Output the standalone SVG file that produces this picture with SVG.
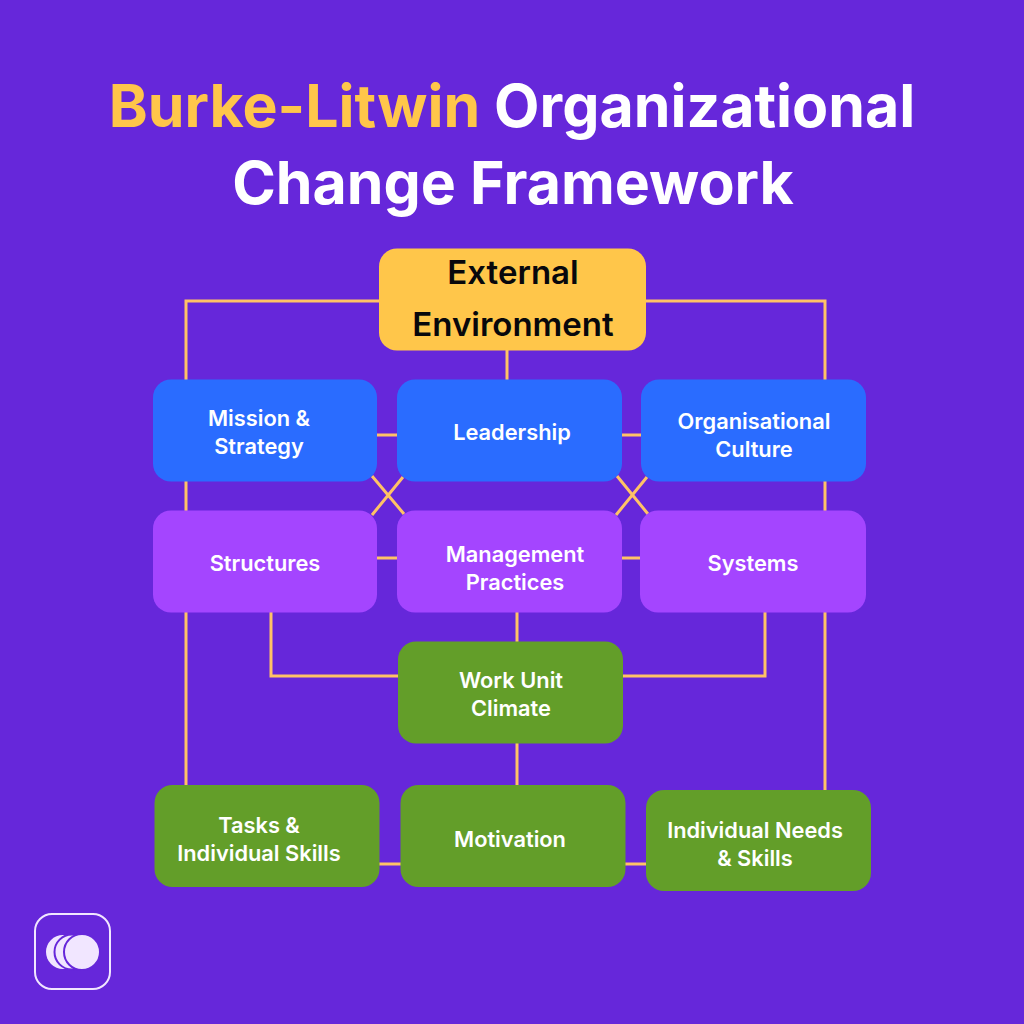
<svg xmlns="http://www.w3.org/2000/svg" width="1024" height="1024" viewBox="0 0 1024 1024">
<style>
text{font-family:Inter,"Liberation Sans",sans-serif;text-anchor:middle}
.t{font-size:59px;font-weight:700;fill:#fff}
.y{fill:#ffc64a}
.l{font-size:21.8px;font-weight:600;fill:#fff}
.e{font-size:33px;font-weight:600;fill:#08080c}
.c{fill:none;stroke:#ffc266;stroke-width:3}
.b{fill:#2a6cff}.p{fill:#a445ff}.g{fill:#639e29}
.m{fill:#f1e6ff}.s{stroke:#6627da;stroke-width:2}
</style>
<rect width="1024" height="1024" fill="#6627da"/>
<text class="t" x="512" y="127"><tspan class="y">Burke-Litwin</tspan> Organizational</text>
<text class="t" x="513" y="204">Change Framework</text>
<g id="connectors" class="c">
<path d="M380 301H186V785"/>
<path d="M645 301H825V790"/>
<path d="M507 350V380"/>
<path d="M377 435H397M622 435H641"/>
<path d="M377 558H397M622 558H640"/>
<path d="M372 515L403 477M372 476L404 514"/>
<path d="M616 515L647 477M617 476L648 514"/>
<path d="M271 612V676H398M765 612V676H623"/>
<path d="M517 612V642M517 742V785"/>
<path d="M379 864H401M625 864H646"/>
</g>
<g id="external"><rect x="379" y="248.500" width="267" height="102" rx="18" fill="#ffc64a"/><text class="e" x="513" y="284">External</text><text class="e" x="513" y="336">Environment</text></g>
<g id="mission"><rect class="b" x="153" y="379.500" width="224" height="102" rx="18"/><text class="l" x="259" y="426">Mission &amp;</text><text class="l" x="259" y="454">Strategy</text></g>
<g id="leadership"><rect class="b" x="397" y="379.500" width="225" height="102" rx="18"/><text class="l" x="512" y="440">Leadership</text></g>
<g id="culture"><rect class="b" x="641" y="379.500" width="225" height="102" rx="18"/><text class="l" x="754" y="429">Organisational</text><text class="l" x="754" y="457">Culture</text></g>
<g id="structures"><rect class="p" x="153" y="510.500" width="224" height="102" rx="18"/><text class="l" x="265" y="571">Structures</text></g>
<g id="management"><rect class="p" x="397" y="510.500" width="225" height="102" rx="18"/><text class="l" x="515" y="562">Management</text><text class="l" x="515" y="590">Practices</text></g>
<g id="systems"><rect class="p" x="640" y="510.500" width="226" height="102" rx="18"/><text class="l" x="753" y="571">Systems</text></g>
<g id="climate"><rect class="g" x="398" y="641.500" width="225" height="102" rx="18"/><text class="l" x="511" y="688">Work Unit</text><text class="l" x="511" y="716">Climate</text></g>
<g id="tasks"><rect class="g" x="154.500" y="785" width="225" height="102" rx="18"/><text class="l" x="259" y="833">Tasks &amp;</text><text class="l" x="259" y="861">Individual Skills</text></g>
<g id="motivation"><rect class="g" x="400.500" y="785" width="225" height="102" rx="18"/><text class="l" x="510" y="847">Motivation</text></g>
<g id="needs"><rect class="g" x="646" y="790" width="225" height="101" rx="18"/><text class="l" x="755" y="838">Individual Needs</text><text class="l" x="755" y="866">&amp; Skills</text></g>
<g id="logo"><rect x="35" y="914" width="75" height="75" rx="17" fill="none" stroke="#f1e6ff" stroke-width="2"/><circle class="m" cx="63" cy="952" r="17"/><circle class="m s" cx="72" cy="952" r="17.500"/><circle class="m s" cx="82" cy="952" r="18"/></g>
</svg>
